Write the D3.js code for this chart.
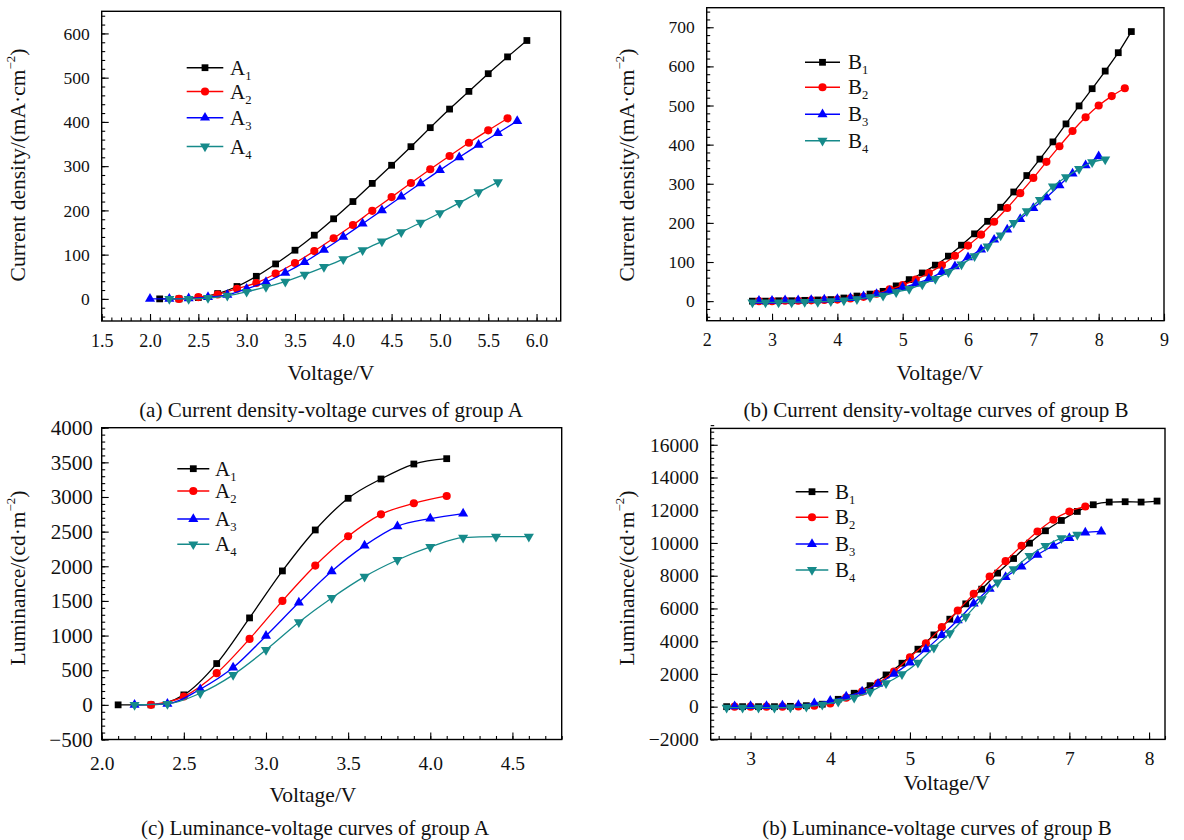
<!DOCTYPE html>
<html><head><meta charset="utf-8">
<script src="https://cdn.jsdelivr.net/npm/d3@7"></script>
<style>
body{margin:0;background:#fff}
svg{display:block}
text{font-family:"Liberation Serif","Times New Roman",serif;fill:#111}
</style>
</head><body>
<svg id="chart" width="1184" height="840"></svg>
<script>
// ---------- Panel (a): current density vs voltage, group A ----------
const aV1 = [2.1,2.3,2.5,2.7,2.9,3.1,3.3,3.5,3.7,3.9,4.1,4.3,4.5,4.7,4.9,5.1,5.3,5.5,5.7,5.9];
const aJ1 = [0,0,3,12,28,51,79,110,144,181,220,261,302,344,387,429,469,509,547,584];
const aV2 = [2.3,2.5,2.7,2.9,3.1,3.3,3.5,3.7,3.9,4.1,4.3,4.5,4.7,4.9,5.1,5.3,5.5,5.7];
const aJ2 = [0,4,10,23,36,57,81,108,137,167,199,230,262,293,323,353,381,408];
const aV3 = [2.0,2.2,2.4,2.6,2.8,3.0,3.2,3.4,3.6,3.8,4.0,4.2,4.4,4.6,4.8,5.0,5.2,5.4,5.6,5.8];
const aJ3 = [0,0,1,4,9,23,38,59,83,111,140,170,200,231,261,291,320,348,375,402];
const aV4 = [2.2,2.4,2.6,2.8,3.0,3.2,3.4,3.6,3.8,4.0,4.2,4.4,4.6,4.8,5.0,5.2,5.4,5.6];
const aJ4 = [0,0,2,7,16,27,39,55,72,90,110,130,151,172,194,217,241,264];

// ---------- Panel (b): current density vs voltage, group B ----------
const bV1 = [2.7,2.9,3.1,3.3,3.5,3.7,3.9,4.1,4.3,4.5,4.7,4.9,5.1,5.3,5.5,5.7,5.9,6.1,6.3,6.5,6.7,6.9,7.1,7.3,7.5,7.7,7.9,8.1,8.3,8.5];
const bJ1 = [0,0,1,1,2,3,4,8,13,18,25,39,55,72,92,115,143,172,204,240,279,321,363,407,453,499,543,588,635,689];
const bV2 = [2.8,3.0,3.2,3.4,3.6,3.8,4.0,4.2,4.4,4.6,4.8,5.0,5.2,5.4,5.6,5.8,6.0,6.2,6.4,6.6,6.8,7.0,7.2,7.4,7.6,7.8,8.0,8.2,8.4];
const bJ2 = [0,0,1,1,2,3,4,7,11,19,30,41,55,72,92,116,142,170,203,238,276,315,356,396,435,470,500,524,544];
const bV3 = [2.8,3.0,3.2,3.4,3.6,3.8,4.0,4.2,4.4,4.6,4.8,5.0,5.2,5.4,5.6,5.8,6.0,6.2,6.4,6.6,6.8,7.0,7.2,7.4,7.6,7.8,8.0];
const bJ3 = [1,1,2,2,3,4,5,8,12,18,26,35,45,57,74,89,112,132,157,183,210,238,265,296,326,347,370];
const bV4 = [2.7,2.9,3.1,3.3,3.5,3.7,3.9,4.1,4.3,4.5,4.7,4.9,5.1,5.3,5.5,5.7,5.9,6.1,6.3,6.5,6.7,6.9,7.1,7.3,7.5,7.7,7.9,8.1];
const bJ4 = [-3,-3,-3,-3,-2,-2,0,2,5,10,14,23,31,43,57,74,94,115,140,168,200,230,259,293,317,338,355,362];

// ---------- Panel (c): luminance vs voltage, group A ----------
const cV1 = [2.1,2.3,2.5,2.7,2.9,3.1,3.3,3.5,3.7,3.9,4.1];
const cL1 = [0,0,144,596,1255,1933,2524,2981,3260,3476,3553];
const cV2 = [2.3,2.5,2.7,2.9,3.1,3.3,3.5,3.7,3.9,4.1];
const cL2 = [0,120,457,952,1500,2010,2433,2750,2909,3015];
const cV3 = [2.2,2.4,2.6,2.8,3.0,3.2,3.4,3.6,3.8,4.0,4.2];
const cL3 = [0,14,226,538,995,1476,1928,2298,2577,2688,2760];
const cV4 = [2.2,2.4,2.6,2.8,3.0,3.2,3.4,3.6,3.8,4.0,4.2,4.4,4.6];
const cL4 = [0,14,168,433,793,1192,1543,1851,2091,2279,2414,2428,2428];

// ---------- Panel (d): luminance vs voltage, group B ----------
const dV1 = [2.7,2.9,3.1,3.3,3.5,3.7,3.9,4.1,4.3,4.5,4.7,4.9,5.1,5.3,5.5,5.7,5.9,6.1,6.3,6.5,6.7,6.9,7.1,7.3,7.5,7.7,7.9,8.1];
const dL1 = [0,0,0,0,20,60,150,450,820,1284,1939,2654,3511,4385,5345,6281,7180,8159,9052,9990,10746,11376,11926,12336,12500,12520,12500,12560];
const dV2 = [2.8,3.0,3.2,3.4,3.6,3.8,4.0,4.2,4.4,4.6,4.8,5.0,5.2,5.4,5.6,5.8,6.0,6.2,6.4,6.6,6.8,7.0,7.2];
const dL2 = [0,0,0,0,10,60,200,550,917,1431,2141,3021,3877,4856,5871,6893,7951,8890,9828,10703,11418,11926,12232];
const dV3 = [2.8,3.0,3.2,3.4,3.6,3.8,4.0,4.2,4.4,4.6,4.8,5.0,5.2,5.4,5.6,5.8,6.0,6.2,6.4,6.6,6.8,7.0,7.2,7.4];
const dL3 = [20,30,40,60,100,200,350,612,917,1388,2000,2691,3500,4370,5280,6300,7200,7914,8563,9278,9828,10299,10642,10703];
const dV4 = [2.7,2.9,3.1,3.3,3.5,3.7,3.9,4.1,4.3,4.5,4.7,4.9,5.1,5.3,5.5,5.7,5.9,6.1,6.3,6.5,6.7,6.9,7.1];
const dL4 = [-60,-60,-60,-60,-40,0,120,300,550,917,1431,1982,2691,3608,4489,5504,6568,7584,8403,9217,9828,10299,10501];

// ---------- tick labels ----------
const aXTicks = [1.5,2.0,2.5,3.0,3.5,4.0,4.5,5.0,5.5,6.0];
const aYTicks = [0,100,200,300,400,500,600];
const bXTicks = [2,3,4,5,6,7,8,9];
const bYTicks = [0,100,200,300,400,500,600,700];
const cXTicks = [2.0,2.5,3.0,3.5,4.0,4.5];
const cYTicks = [-500,0,500,1000,1500,2000,2500,3000,3500,4000];
const dXTicks = [3,4,5,6,7,8];
const dYTicks = [-2000,0,2000,4000,6000,8000,10000,12000,14000,16000];

const namesA = ["A","A","A","A"];
const namesB = ["B","B","B","B"];
const subs = ["1","2","3","4"];
const captions = [
  "(a) Current density-voltage curves of group A",
  "(b) Current density-voltage curves of group B",
  "(c) Luminance-voltage curves of group A",
  "(b) Luminance-voltage curves of group B"
];
const xTitle = "Voltage/V";

// ---------- styling ----------
const COLORS = ["#000000","#ff0000","#0000ff","#168a8a"];
const SHAPES = ["square","circle","up","down"];
const FONT = "Liberation Serif, Times New Roman, serif";
const svg = d3.select("#chart");

function symPath(shape){
  if (shape==="square") return d3.symbol(d3.symbolSquare, 46)();
  if (shape==="circle") return d3.symbol(d3.symbolCircle, 52)();
  return d3.symbol(d3.symbolTriangle, 44)();
}
function symRot(shape){ return shape==="down" ? " rotate(180)" : ""; }

function minorRange(a, b, step){
  const out = [];
  const n = Math.round((b - a) / step);
  for (let i = 0; i <= n; i++) out.push(+(a + i*step).toFixed(6));
  return out;
}

function panel(cfg){
  const x = d3.scaleLinear().domain(cfg.xDomain).range([cfg.left, cfg.right]);
  const y = d3.scaleLinear().domain(cfg.yDomain).range([cfg.bottom, cfg.top]);
  const g = svg.append("g");

  const styleAxis = fs => a => { a.select(".domain").remove(); a.attr("font-family", FONT).attr("font-size", fs); a.selectAll("line").attr("stroke","#000").attr("stroke-width",1.1); a.selectAll("text").attr("fill","#111"); };

  // x axis minor + major (inward)
  g.append("g").attr("transform",`translate(0,${cfg.bottom})`)
    .call(d3.axisBottom(x).tickValues(cfg.xMinor).tickSize(-3.5).tickFormat(""))
    .call(styleAxis(cfg.xTickFont));
  g.append("g").attr("transform",`translate(0,${cfg.bottom})`)
    .call(d3.axisBottom(x).tickValues(cfg.xTicks).tickSize(-7).tickPadding(cfg.xPad).tickFormat(cfg.xFmt))
    .call(styleAxis(cfg.xTickFont));
  // y axis minor + major (inward)
  g.append("g").attr("transform",`translate(${cfg.left},0)`)
    .call(d3.axisLeft(y).tickValues(cfg.yMinor).tickSize(-3.5).tickFormat(""))
    .call(styleAxis(cfg.yTickFont));
  g.append("g").attr("transform",`translate(${cfg.left},0)`)
    .call(d3.axisLeft(y).tickValues(cfg.yTicks).tickSize(-7).tickPadding(cfg.yPad).tickFormat(d3.format("d")))
    .call(styleAxis(cfg.yTickFont));

  // frame
  g.append("rect").attr("x",cfg.left).attr("y",cfg.top)
    .attr("width",cfg.right-cfg.left).attr("height",cfg.bottom-cfg.top)
    .attr("fill","none").attr("stroke","#000").attr("stroke-width",1.4);

  // series
  const line = d3.line().x(d=>x(d[0])).y(d=>y(d[1])).curve(d3.curveMonotoneX);
  cfg.series.forEach((s,i) => {
    const pts = s.x.map((v,k)=>[v, s.y[k]]);
    g.append("path").datum(pts).attr("d", line)
      .attr("fill","none").attr("stroke",COLORS[i]).attr("stroke-width",1.3);
    g.append("g").selectAll("path").data(pts).join("path")
      .attr("transform", d=>`translate(${x(d[0])},${y(d[1])})${symRot(SHAPES[i])}`)
      .attr("d", symPath(SHAPES[i])).attr("fill", COLORS[i]);
  });

  // legend
  cfg.series.forEach((s,i) => {
    const ly = cfg.legY[i];
    g.append("line").attr("x1",cfg.legX1).attr("x2",cfg.legX2).attr("y1",ly).attr("y2",ly)
      .attr("stroke",COLORS[i]).attr("stroke-width",1.5);
    g.append("path").attr("transform",`translate(${(cfg.legX1+cfg.legX2)/2},${ly})${symRot(SHAPES[i])}`)
      .attr("d", symPath(SHAPES[i])).attr("fill", COLORS[i]);
    const t = g.append("text").attr("x", cfg.legTX).attr("y", ly + 7)
      .attr("font-size", cfg.legFont).attr("font-family", FONT);
    t.append("tspan").text(cfg.names[i]);
    t.append("tspan").attr("dy", 5).attr("font-size", cfg.legFont*0.6).text(subs[i]);
  });

  // x title
  g.append("text").attr("x", cfg.xTitleX).attr("y", cfg.xTitleY)
    .attr("text-anchor","middle").attr("dominant-baseline","central")
    .attr("font-size", cfg.titleFont).text(xTitle);
  // y title (rotated), with superscript
  const yt = g.append("text").attr("transform",`translate(${cfg.yTitleX},${cfg.yTitleY}) rotate(-90)`)
    .attr("text-anchor","middle").attr("dominant-baseline","central")
    .attr("font-size", cfg.titleFont);
  yt.append("tspan").text(cfg.yTitle[0]);
  yt.append("tspan").attr("dy",-7).attr("font-size", cfg.titleFont*0.6).text(cfg.yTitle[1]);
  yt.append("tspan").attr("dy",7).text(cfg.yTitle[2]);
  // caption
  g.append("text").attr("x", cfg.capX).attr("y", cfg.capY)
    .attr("text-anchor","middle").attr("dominant-baseline","central")
    .attr("font-size", cfg.capFont).text(cfg.caption);
}

const f1 = d3.format(".1f"), f0 = d3.format("d");

panel({
  left:101.7, right:560.7, top:11.3, bottom:321,
  xDomain:[1.5,6.25], yDomain:[-50,650],
  xTicks:aXTicks, xMinor:minorRange(1.5,6.2,0.1), xFmt:f1, xPad:13,
  yTicks:aYTicks, yMinor:minorRange(-40,640,20), yPad:12,
  xTickFont:18, yTickFont:17.5, titleFont:21.5, capFont:21, legFont:21,
  series:[{x:aV1,y:aJ1},{x:aV2,y:aJ2},{x:aV3,y:aJ3},{x:aV4,y:aJ4}],
  names:namesA, legX1:186.7, legX2:223.3, legTX:230, legY:[67.7,91.5,117.7,146.5],
  xTitleX:331, xTitleY:373, yTitleX:18, yTitleY:165,
  yTitle:["Current density/(mA·cm","−2",")"],
  capX:331, capY:410, caption:captions[0]
});

panel({
  left:706.7, right:1164, top:7.7, bottom:320.7,
  xDomain:[2,9], yDomain:[-50,750],
  xTicks:bXTicks, xMinor:minorRange(2,9,0.2), xFmt:f0, xPad:13,
  yTicks:bYTicks, yMinor:minorRange(-40,740,20), yPad:12,
  xTickFont:18, yTickFont:17.5, titleFont:21.5, capFont:21, legFont:21,
  series:[{x:bV1,y:bJ1},{x:bV2,y:bJ2},{x:bV3,y:bJ3},{x:bV4,y:bJ4}],
  names:namesB, legX1:805, legX2:840, legTX:848, legY:[62.3,87.3,114.3,140.7],
  xTitleX:940, xTitleY:373, yTitleX:627, yTitleY:165,
  yTitle:["Current density/(mA·cm","−2",")"],
  capX:936, capY:410, caption:captions[1]
});

panel({
  left:101.7, right:561.7, top:427.7, bottom:739.5,
  xDomain:[2.0,4.8], yDomain:[-500,4000],
  xTicks:cXTicks, xMinor:minorRange(2.0,4.8,0.1), xFmt:f1, xPad:17,
  yTicks:cYTicks, yMinor:minorRange(-500,4000,100), yPad:9,
  xTickFont:19.5, yTickFont:21, titleFont:21.5, capFont:21, legFont:21,
  series:[{x:cV1,y:cL1},{x:cV2,y:cL2},{x:cV3,y:cL3},{x:cV4,y:cL4}],
  names:namesA, legX1:177.3, legX2:209.3, legTX:215, legY:[468.7,491,519,544.3],
  xTitleX:313, xTitleY:795, yTitleX:18, yTitleY:578,
  yTitle:["Luminance/(cd·m","−2",")"],
  capX:315, capY:828, caption:captions[2]
});

panel({
  left:710.7, right:1165, top:428.4, bottom:739.4,
  xDomain:[2.5,8.2], yDomain:[-2000,17000],
  xTicks:dXTicks, xMinor:minorRange(2.6,8.2,0.2), xFmt:f0, xPad:12,
  yTicks:dYTicks, yMinor:minorRange(-2000,17000,400), yPad:12,
  xTickFont:19.5, yTickFont:19.5, titleFont:21.5, capFont:21, legFont:21,
  series:[{x:dV1,y:dL1},{x:dV2,y:dL2},{x:dV3,y:dL3},{x:dV4,y:dL4}],
  names:namesB, legX1:795.7, legX2:828.3, legTX:835, legY:[491.7,517.3,544,570],
  xTitleX:947, xTitleY:783, yTitleX:627, yTitleY:578,
  yTitle:["Luminance/(cd·m","−2",")"],
  capX:937, capY:828, caption:captions[3]
});
</script>
</body></html>
